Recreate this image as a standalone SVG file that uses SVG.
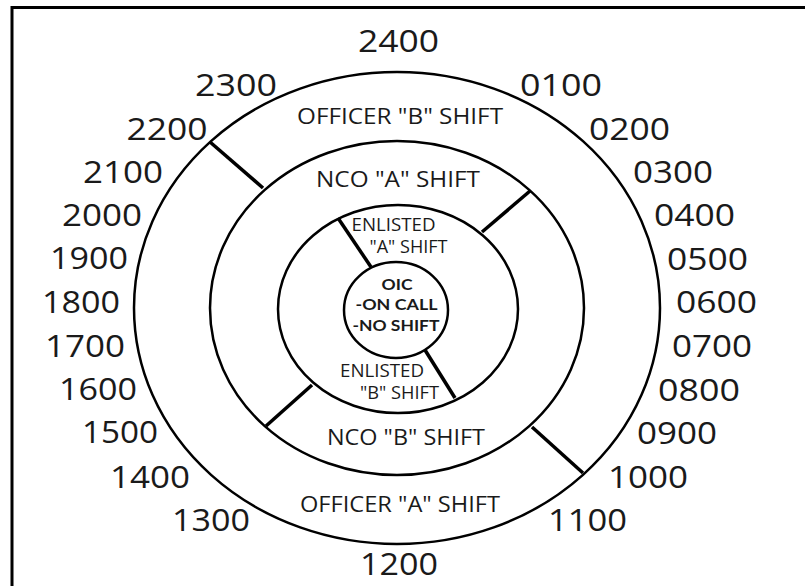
<svg xmlns="http://www.w3.org/2000/svg" width="805" height="586" viewBox="0 0 805 586">
<style>
.ring{fill:none;stroke:#000;stroke-width:2.5}
.div{stroke:#000;stroke-width:3.5;stroke-linecap:butt}
.hr{font-family:"Open Sans","Noto Sans","DejaVu Sans",sans-serif;font-size:31px;fill:#1a1a1a;text-anchor:middle}
.lbl{font-family:"Open Sans","Noto Sans","DejaVu Sans",sans-serif;font-size:22px;fill:#1a1a1a;text-anchor:middle}
.sm{font-family:"Open Sans","Noto Sans","DejaVu Sans",sans-serif;font-size:18px;fill:#1a1a1a;text-anchor:middle}
.oic{font-family:Lato,"Open Sans","DejaVu Sans",sans-serif;font-size:16px;font-weight:bold;fill:#1a1a1a;text-anchor:middle}
</style>
<rect width="805" height="586" fill="#fff"/>
<path d="M12,586 V7.5 H805" fill="none" stroke="#000" stroke-width="3"/>
<g id="officer-ring">
<ellipse class="ring" cx="397" cy="308" rx="263" ry="236"/>
<text class="lbl" x="400" y="124" textLength="206" lengthAdjust="spacingAndGlyphs">OFFICER "B" SHIFT</text>
<text class="lbl" x="400" y="512" textLength="200" lengthAdjust="spacingAndGlyphs">OFFICER "A" SHIFT</text>
</g>
<g id="nco-ring">
<ellipse class="ring" cx="397" cy="308" rx="187" ry="167"/>
<text class="lbl" x="398" y="187" textLength="164" lengthAdjust="spacingAndGlyphs">NCO "A" SHIFT</text>
<text class="lbl" x="406" y="445" textLength="158" lengthAdjust="spacingAndGlyphs">NCO "B" SHIFT</text>
</g>
<g id="enlisted-ring">
<ellipse class="ring" cx="398" cy="309" rx="120" ry="104"/>
<text class="sm" x="393.5" y="231" textLength="84" lengthAdjust="spacingAndGlyphs">ENLISTED</text>
<text class="sm" x="408.5" y="253" textLength="78" lengthAdjust="spacingAndGlyphs">"A" SHIFT</text>
<text class="sm" x="382" y="377" textLength="84" lengthAdjust="spacingAndGlyphs">ENLISTED</text>
<text class="sm" x="399.5" y="399" textLength="79" lengthAdjust="spacingAndGlyphs">"B" SHIFT</text>
</g>
<g id="oic">
<ellipse class="ring" cx="396" cy="310" rx="52" ry="48"/>
<text class="oic" x="397" y="290" textLength="31" lengthAdjust="spacingAndGlyphs">OIC</text>
<text class="oic" x="396.5" y="310" textLength="82" lengthAdjust="spacingAndGlyphs">-ON CALL</text>
<text class="oic" x="396" y="331" textLength="87" lengthAdjust="spacingAndGlyphs">-NO SHIFT</text>
</g>
<g id="connectors">
<line class="div" x1="210" y1="142" x2="263" y2="188"/>
<line class="div" x1="532" y1="427" x2="583" y2="473"/>
<line class="div" x1="530" y1="191" x2="482" y2="232"/>
<line class="div" x1="312" y1="385" x2="266" y2="426"/>
<line class="div" x1="338" y1="218" x2="371" y2="267"/>
<line class="div" x1="425" y1="350" x2="455" y2="398"/>
</g>
<g id="hours">
<text class="hr" x="398.5" y="52" textLength="81" lengthAdjust="spacingAndGlyphs">2400</text>
<text class="hr" x="236" y="96" textLength="82" lengthAdjust="spacingAndGlyphs">2300</text>
<text class="hr" x="561" y="96" textLength="82" lengthAdjust="spacingAndGlyphs">0100</text>
<text class="hr" x="167" y="140" textLength="81" lengthAdjust="spacingAndGlyphs">2200</text>
<text class="hr" x="629.5" y="140" textLength="81" lengthAdjust="spacingAndGlyphs">0200</text>
<text class="hr" x="123" y="183" textLength="80" lengthAdjust="spacingAndGlyphs">2100</text>
<text class="hr" x="673" y="183" textLength="80" lengthAdjust="spacingAndGlyphs">0300</text>
<text class="hr" x="102" y="226" textLength="80" lengthAdjust="spacingAndGlyphs">2000</text>
<text class="hr" x="694.5" y="226" textLength="81" lengthAdjust="spacingAndGlyphs">0400</text>
<text class="hr" x="89" y="269" textLength="78" lengthAdjust="spacingAndGlyphs">1900</text>
<text class="hr" x="707.5" y="270" textLength="81" lengthAdjust="spacingAndGlyphs">0500</text>
<text class="hr" x="81" y="313" textLength="78" lengthAdjust="spacingAndGlyphs">1800</text>
<text class="hr" x="716.5" y="313" textLength="81" lengthAdjust="spacingAndGlyphs">0600</text>
<text class="hr" x="85" y="357" textLength="80" lengthAdjust="spacingAndGlyphs">1700</text>
<text class="hr" x="712" y="357" textLength="80" lengthAdjust="spacingAndGlyphs">0700</text>
<text class="hr" x="98" y="400" textLength="78" lengthAdjust="spacingAndGlyphs">1600</text>
<text class="hr" x="699" y="401" textLength="82" lengthAdjust="spacingAndGlyphs">0800</text>
<text class="hr" x="120" y="443" textLength="76" lengthAdjust="spacingAndGlyphs">1500</text>
<text class="hr" x="677" y="444" textLength="80" lengthAdjust="spacingAndGlyphs">0900</text>
<text class="hr" x="150" y="488" textLength="80" lengthAdjust="spacingAndGlyphs">1400</text>
<text class="hr" x="648" y="488" textLength="80" lengthAdjust="spacingAndGlyphs">1000</text>
<text class="hr" x="211" y="531" textLength="78" lengthAdjust="spacingAndGlyphs">1300</text>
<text class="hr" x="587.5" y="531" textLength="79" lengthAdjust="spacingAndGlyphs">1100</text>
<text class="hr" x="399" y="575" textLength="78" lengthAdjust="spacingAndGlyphs">1200</text>
</g>
</svg>
